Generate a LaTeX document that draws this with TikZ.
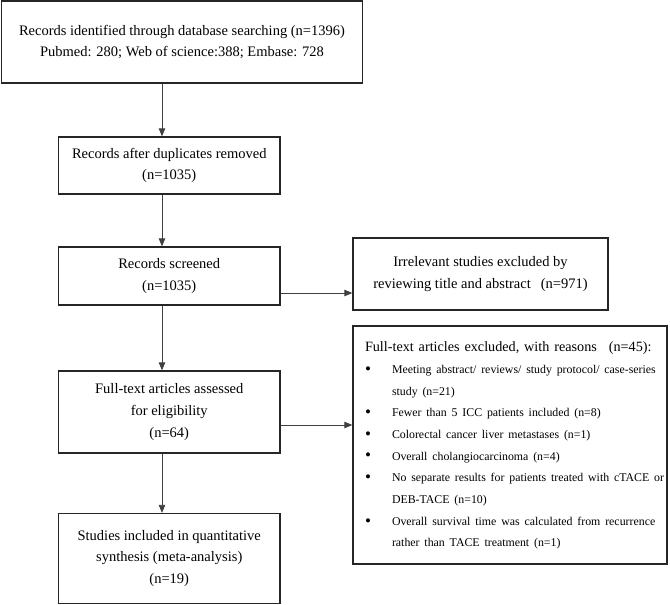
\documentclass[tikz,border=0pt]{standalone}
\usepackage{fontspec}
\setmainfont{Liberation Serif}
\usetikzlibrary{arrows.meta}
\newcommand{\itemfont}{\fontsize{11.85}{21.7}\selectfont}
\newcommand{\bigbul}{{\fontsize{17}{21.7}\selectfont\raisebox{-0.8pt}{\textbullet}}}
\begin{document}
\begin{tikzpicture}[x=1pt,y=-1pt,
  box/.style={draw=black!85, line width=1.3pt, rectangle, inner sep=0pt, align=center,
    font=\fontsize{14.5}{21.7}\selectfont},
  arr/.style={draw=black!75, line width=0.8pt, -{Triangle[length=8pt,width=6.5pt]}}]
\useasboundingbox (0,0) rectangle (670,605);
\node[box, minimum width=361pt, minimum height=82pt] (b1) at (182,42)
  {Records identified through database searching (n=1396)\\Pubmed: 280; Web of science:388; Embase: 728};
\node[box, minimum width=221.5pt, minimum height=57pt] (b2) at (169.25,165.5)
  {Records after duplicates removed\\(n=1035)};
\node[box, minimum width=221.5pt, minimum height=58pt] (b3) at (169.25,276)
  {Records screened\\(n=1035)};
\node[box, minimum width=221.5pt, minimum height=82pt] (b4) at (169.25,412)
  {Full-text articles assessed\\for eligibility\\(n=64)};
\node[box, minimum width=221.5pt, minimum height=90pt] (b5) at (169.25,558.5)
  {Studies included in quantitative\\synthesis (meta-analysis)\\(n=19)};
\node[box, minimum width=255pt, minimum height=72pt] (irr) at (480.5,274)
  {Irrelevant studies excluded by\\reviewing title and abstract\hspace{10pt}(n=971)};
\node[box, minimum width=314pt, minimum height=238pt, text width=290pt, inner xsep=12pt, align=left] (ft) at (510,445)
  {\begin{tabular}{@{}p{27pt}@{}l@{}}
  \multicolumn{2}{@{}l@{}}{\fontsize{14.2}{21.7}\selectfont Full-text articles excluded, with reasons\hspace{12pt}(n=45):}\\
  \bigbul & \itemfont Meeting abstract/ reviews/ study protocol/ case-series\\
   & \itemfont study (n=21)\\
  \bigbul & \itemfont Fewer than 5 ICC patients included (n=8)\\
  \bigbul & \itemfont Colorectal cancer liver metastases (n=1)\\
  \bigbul & \itemfont Overall cholangiocarcinoma (n=4)\\
  \bigbul & \itemfont No separate results for patients treated with cTACE or\\
   & \itemfont DEB-TACE (n=10)\\
  \bigbul & \itemfont Overall survival time was calculated from recurrence\\
   & \itemfont rather than TACE treatment (n=1)
  \end{tabular}};
\coordinate (ax) at (162,0);
\coordinate (ay1) at (0,293);
\coordinate (ay2) at (0,425);
\draw[arr] (b1.south -| ax) -- (b2.north -| ax);
\draw[arr] (b2.south -| ax) -- (b3.north -| ax);
\draw[arr] (b3.south -| ax) -- (b4.north -| ax);
\draw[arr] (b4.south -| ax) -- (b5.north -| ax);
\draw[arr] (b3.east |- ay1) -- (irr.west |- ay1);
\draw[arr] (b4.east |- ay2) -- (ft.west |- ay2);
\end{tikzpicture}
\end{document}
